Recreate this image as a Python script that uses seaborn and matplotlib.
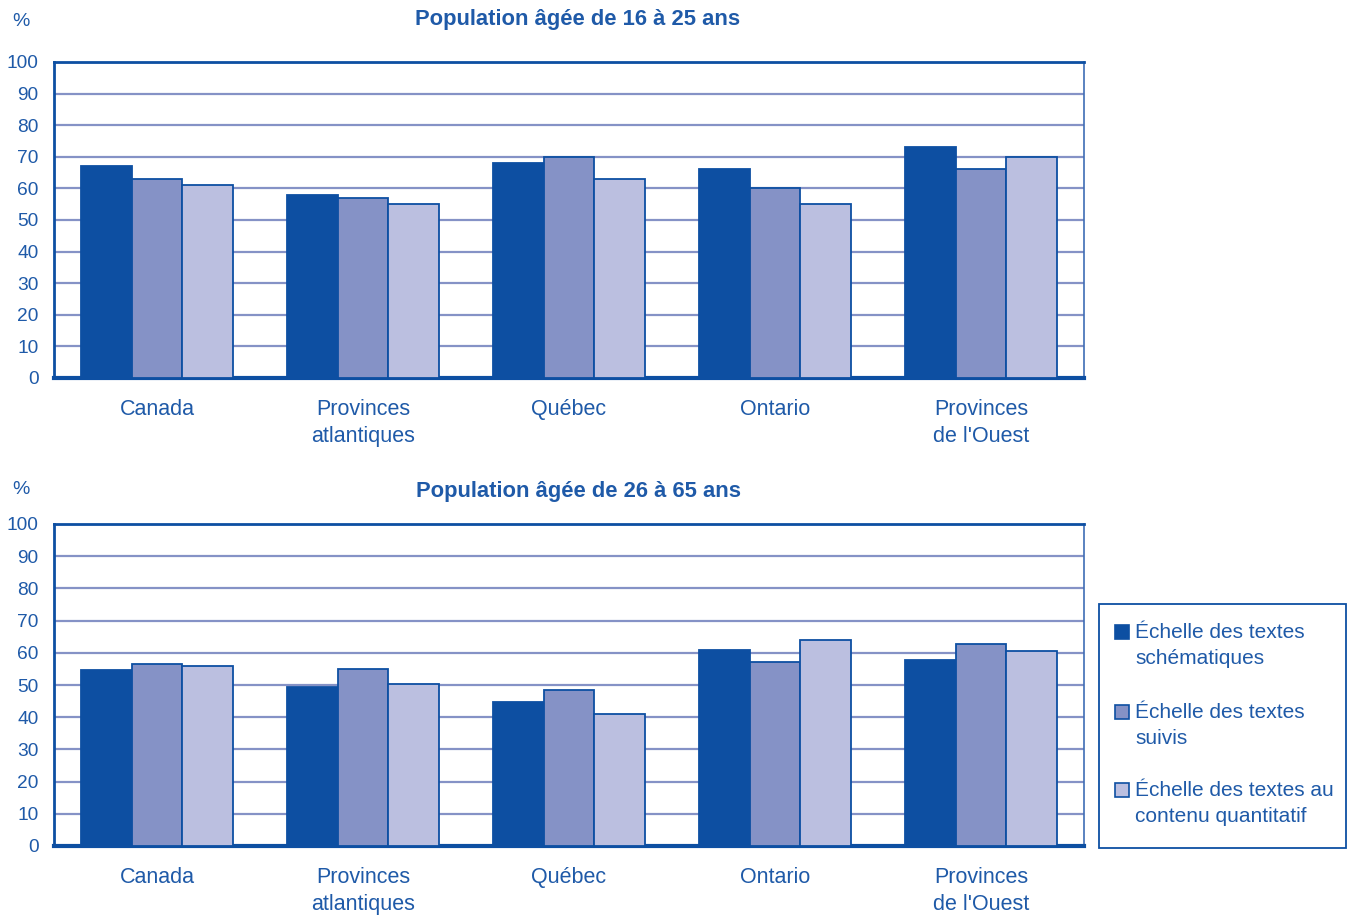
import matplotlib
matplotlib.use("Agg")
import matplotlib.pyplot as plt
from matplotlib.patches import Rectangle
import seaborn as sns
import pandas as pd

# Regions and literacy scales
regions = ["Canada", "Provinces\natlantiques", "Québec", "Ontario", "Provinces\nde l'Ouest"]
scales = ["Échelle des textes\nschématiques",
          "Échelle des textes\nsuivis",
          "Échelle des textes au\ncontenu quantitatif"]

# Percentages, population aged 16 to 25
young_schema = [67, 58, 68, 66, 73]
young_prose = [63, 57, 70, 60, 66]
young_quant = [61, 55, 63, 55, 70]

# Percentages, population aged 26 to 65
adult_schema = [54.6, 49.3, 44.7, 60.8, 57.7]
adult_prose = [56.4, 55.1, 48.3, 57.0, 62.6]
adult_quant = [55.8, 50.2, 40.9, 63.9, 60.7]

y_ticks = list(range(0, 101, 10))

DARK = "#0D4FA2"
MID = "#8592C6"
LIGHT = "#BBBFE0"
TEXT = "#1F5AA8"
palette = [DARK, MID, LIGHT]


def long_frame(a, b, c):
    rows = []
    for series, vals in zip(scales, (a, b, c)):
        for reg, v in zip(regions, vals):
            rows.append({"region": reg, "scale": series, "pct": v})
    return pd.DataFrame(rows)


sns.set_theme(style="white")
plt.rcParams["font.family"] = ["Liberation Sans", "DejaVu Sans"]

W, H = 1350, 916
fig = plt.figure(figsize=(W / 100, H / 100), dpi=100)
ax_top = fig.add_axes([54 / W, 1 - 378 / H, 1030 / W, 316 / H])
ax_bot = fig.add_axes([54 / W, 1 - 846 / H, 1030 / W, 322 / H])

panels = [
    (ax_top, long_frame(young_schema, young_prose, young_quant),
     "Population âgée de 16 à 25 ans", 20, 22),
    (ax_bot, long_frame(adult_schema, adult_prose, adult_quant),
     "Population âgée de 26 à 65 ans", 492, 490),
]

for ax, df, title, ty, py in panels:
    sns.barplot(data=df, x="region", y="pct", hue="scale", hue_order=scales,
                order=regions, palette=palette, saturation=1, width=0.735, gap=0,
                edgecolor=DARK, linewidth=1.3, errorbar=None, legend=False,
                zorder=3, ax=ax)
    ax.set_ylim(0, 100)
    ax.set_xlim(-0.5, len(regions) - 0.5)
    ax.set_yticks(y_ticks)
    ax.set_xlabel("")
    ax.set_ylabel("")
    ax.yaxis.grid(True, color=MID, linewidth=1.6, zorder=0)
    ax.xaxis.grid(False)
    ax.set_axisbelow(True)
    ax.tick_params(axis="y", length=0, pad=11, labelsize=13.8, labelcolor=TEXT)
    ax.tick_params(axis="x", length=0, pad=15, labelsize=15.5, labelcolor=TEXT)
    for lab in ax.get_xticklabels():
        lab.set_linespacing(1.4)
    for side in ("top", "left"):
        ax.spines[side].set_color(DARK)
        ax.spines[side].set_linewidth(2.0)
    ax.spines["bottom"].set_color(DARK)
    ax.spines["bottom"].set_linewidth(3.0)
    ax.spines["right"].set_color("#3E6DB5")
    ax.spines["right"].set_linewidth(1.2)
    fig.text(578 / W, 1 - ty / H, title, ha="center", va="center",
             fontsize=15.8, fontweight="bold", color=TEXT)
    fig.text(21 / W, 1 - py / H, "%", ha="center", va="center",
             fontsize=14, color=TEXT)

# Legend panel: framed box with a square swatch beside the first line of each label
fig.patches.append(Rectangle((1099 / W, 1 - 848 / H), 247 / W, 244 / H,
                             transform=fig.transFigure, facecolor="white",
                             edgecolor=DARK, linewidth=1.3))
entry_tops = [632, 712, 790]
for color, label, yc in zip(palette, scales, entry_tops):
    fig.patches.append(Rectangle((1115 / W, 1 - (yc + 7) / H), 14 / W, 14 / H,
                                 transform=fig.transFigure, facecolor=color,
                                 edgecolor=DARK, linewidth=1.2))
    fig.text(1135 / W, 1 - (yc - 9) / H, label, ha="left", va="top",
             fontsize=15, color=TEXT, linespacing=1.5)

fig.savefig("out.png", dpi=100, facecolor="white")
